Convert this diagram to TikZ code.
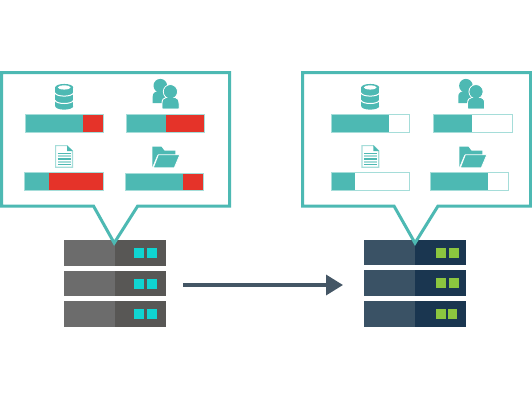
\documentclass[tikz,border=0pt]{standalone}
\usetikzlibrary{arrows.meta}
\definecolor{teal1}{HTML}{4DB9B3}
\definecolor{teallt}{HTML}{A5DDD9}
\definecolor{red1}{HTML}{E53329}
\definecolor{gl}{HTML}{6C6C6C}
\definecolor{gd}{HTML}{585755}
\definecolor{ledc}{HTML}{0FD5D2}
\definecolor{nl}{HTML}{3A5265}
\definecolor{nd}{HTML}{1A3650}
\definecolor{ledg}{HTML}{8CC63F}
\definecolor{arrowc}{HTML}{445665}
\tikzset{
  callout/.style={draw=teal1,line width=3pt,fill=white,line join=miter,miter limit=10},
  flow/.style={draw=arrowc,line width=3.4pt,-{Triangle[length=17pt,width=20pt]}}
}
% bar: x0,x1,split,y0,y1,remaining colour
\newcommand{\tbar}[6]{%
  \fill[#6] (#1,#4) rectangle (#2,#5);
  \fill[teal1] (#1,#4) rectangle (#3,#5);
  \draw[teallt,line width=.9pt] (#1,#4) rectangle (#2,#5);
}
\newcommand{\dbicon}[2]{\begin{scope}[shift={(#1,#2)}]
  \fill[teal1] (-9,-9.35) rectangle (9,9.35);
  \fill[teal1] (0,-9.35) ellipse[x radius=9,y radius=3.5];
  \fill[teal1] (0,9.35) ellipse[x radius=9,y radius=3.5];
  \fill[white] (0,-9.35) ellipse[x radius=6.4,y radius=2.1];
  \draw[white,line width=1pt] (-9.3,-4) .. controls (-8,0.4) and (8,0.4) .. (9.3,-4);
  \draw[white,line width=1pt] (-9.3,3.4) .. controls (-8,7.8) and (8,7.8) .. (9.3,3.4);
\end{scope}}
\newcommand{\usericon}[2]{\begin{scope}[shift={(#1,#2)}]
  \fill[teal1] (7.6,85.7) circle[radius=6.8];
  \fill[teal1] (0,103) -- (0,96.5) .. controls (0,93) and (2.5,91.5) .. (5,91) -- (14,91) -- (14,103) -- cycle;
  \draw[white,line width=1pt,fill=teal1] (9.3,108.8) -- (9.3,103.5) .. controls (9.3,99.5) and (11,98) .. (14,97.2) -- (22,97.2) .. controls (24.5,98) and (26.3,99.5) .. (26.3,103.5) -- (26.3,108.8) -- cycle;
  \draw[white,line width=1pt,fill=teal1] (17.7,91.7) circle[radius=7];
  \fill[teal1] (10,108.3) -- (10,103.5) .. controls (10,99.8) and (11.5,98.6) .. (14,98) -- (22,98) .. controls (24,98.6) and (25.6,99.8) .. (25.6,103.5) -- (25.6,108.3) -- cycle;
  \fill[teal1] (17.7,91.7) circle[radius=6.5];
\end{scope}}
\newcommand{\docicon}[2]{\begin{scope}[shift={(#1,#2)}]
  \draw[teallt,line width=1.2pt,fill=white] (0.6,0.6) -- (12,0.6) -- (17.4,6) -- (17.4,22.2) -- (0.6,22.2) -- cycle;
  \fill[teal1] (12,0.3) -- (17.8,6) -- (12,6) -- cycle;
  \foreach \yy/\cc in {8.2/teal1,11/teallt,14/teal1,17/teallt,19.8/teal1}
    \draw[\cc,line width=1.1pt] (2.5,\yy) -- (15.5,\yy);
\end{scope}}
\newcommand{\foldericon}[2]{\begin{scope}[shift={(#1,#2)}]
  \fill[teal1] (0,21) -- (0,0.5) -- (9,0.5) -- (12,4.5) -- (23,4.5) -- (23,9) -- (5,9) -- cycle;
  \draw[white,line width=.8pt,fill=teal1] (6,8.8) -- (27.5,8.8) -- (22,21.8) -- (1,21.8) -- cycle;
\end{scope}}
\newcommand{\srow}[7]{%
  % x0,xm,x1,y0,y1, colour left, colour right
  \fill[#6] (#1,#4) rectangle (#2,#5);
  \fill[#7] (#2,#4) rectangle (#3,#5);
}
\begin{document}
\begin{tikzpicture}[x=1pt,y=-1pt]
\useasboundingbox (0,0) rectangle (532,400);
\fill[white] (0,0) rectangle (532,400);
% left server
\srow{64}{114.7}{165.7}{240}{265.7}{gl}{gd}
\srow{64}{114.7}{165.7}{270.7}{296.3}{gl}{gd}
\srow{64}{114.7}{165.7}{301.3}{327}{gl}{gd}
\foreach \yy in {248,278.7,309.3}{
  \fill[ledc] (134,\yy) rectangle ++(10,10);
  \fill[ledc] (147,\yy) rectangle ++(10,10);
}
% right server
\srow{364.3}{415}{466}{239.5}{265.3}{nl}{nd}
\srow{364.3}{415}{466}{270.3}{296.3}{nl}{nd}
\srow{364.3}{415}{466}{301}{327}{nl}{nd}
\foreach \yy in {247.7,278.3}{
  \fill[ledg] (436,\yy) rectangle ++(10,10);
  \fill[ledg] (449.3,\yy) rectangle ++(10,10);
}
\fill[ledg] (436,309.3) rectangle ++(10,9.6);
\fill[ledg] (447.7,309.3) rectangle ++(9.7,9.6);
% callouts
\draw[callout] (1.5,72.5) -- (229.5,72.5) -- (229.5,206) -- (137.7,206) -- (114.2,243) -- (93.5,206) -- (1.5,206) -- cycle;
\draw[callout] (302.5,72.5) -- (530.5,72.5) -- (530.5,206) -- (438,206) -- (415,243) -- (394,206) -- (302.5,206) -- cycle;
% left bars
\tbar{25}{103.3}{82.7}{114.3}{132}{red1}
\tbar{126.3}{204.7}{165.7}{114.3}{132}{red1}
\tbar{24.7}{103.7}{49}{172.7}{190.3}{red1}
\tbar{125.3}{203.7}{183}{173.3}{190.7}{red1}
% right bars
\tbar{331}{409.7}{389}{114.3}{132}{white}
\tbar{433.3}{512}{472.3}{114.3}{132}{white}
\tbar{331}{409.7}{355.3}{172.3}{190}{white}
\tbar{430.7}{508.7}{488.3}{172.3}{190}{white}
% icons
\dbicon{64.2}{96.8}
\dbicon{370.2}{96.8}
\usericon{152.7}{0}
\usericon{458.3}{0}
\docicon{55}{145}
\docicon{361.3}{145}
\foldericon{152.3}{146}
\foldericon{459.3}{146}
% arrow
\coordinate (flowstart) at (183,285);
\coordinate (flowend) at (343,285);
\draw[flow] (flowstart) -- (flowend);
\end{tikzpicture}
\end{document}
